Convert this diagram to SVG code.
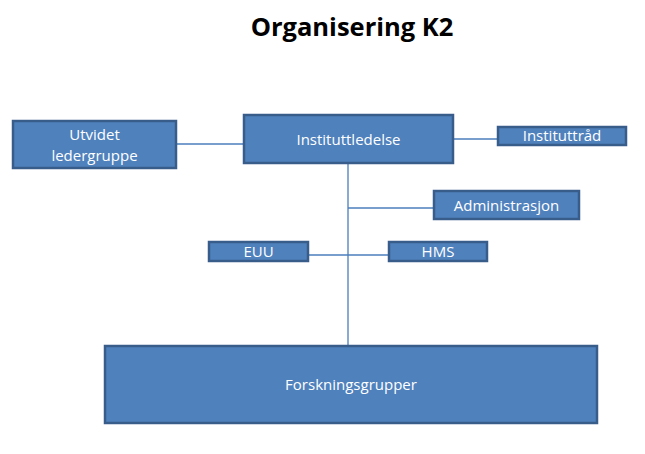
<svg xmlns="http://www.w3.org/2000/svg" width="645" height="454" viewBox="0 0 645 454">
<style>
.box{fill:#4F81BD;stroke:#385D8A;stroke-width:2.5}
.lbl{font-family:"Open Sans","Liberation Sans",sans-serif;font-size:15px;fill:#FFFFFF;text-anchor:middle}
.ln{stroke:#4A7EBB;stroke-width:1.3;fill:none}
</style>
<rect width="645" height="454" fill="#FFFFFF"/>
<text x="352" y="36" font-family="'Open Sans','Liberation Sans',sans-serif" font-size="25.5" font-weight="bold" fill="#000" text-anchor="middle">Organisering K2</text>
<g id="connectors">
<line class="ln" x1="176" y1="144" x2="243" y2="144"/>
<line class="ln" x1="453" y1="139" x2="497" y2="139"/>
<line class="ln" x1="348" y1="163" x2="348" y2="346"/>
<line class="ln" x1="348" y1="208" x2="433" y2="208"/>
<line class="ln" x1="308" y1="255" x2="388" y2="255"/>
</g>
<g id="utvidet">
<rect class="box" x="13" y="121" width="163" height="47"/>
<text class="lbl" x="94.5" y="140">Utvidet</text>
<text class="lbl" x="94.5" y="161">ledergruppe</text>
</g>
<g id="instituttledelse">
<rect class="box" x="244" y="115" width="209" height="48"/>
<text class="lbl" x="348.5" y="145">Instituttledelse</text>
</g>
<g id="instituttraad">
<rect class="box" x="498" y="127" width="128" height="18"/>
<text class="lbl" x="562" y="141">Instituttråd</text>
</g>
<g id="administrasjon">
<rect class="box" x="434" y="191" width="145" height="28"/>
<text class="lbl" x="506.5" y="211">Administrasjon</text>
</g>
<g id="euu">
<rect class="box" x="209" y="242" width="99" height="19"/>
<text class="lbl" x="258.5" y="257">EUU</text>
</g>
<g id="hms">
<rect class="box" x="389" y="242" width="98" height="19"/>
<text class="lbl" x="438" y="257">HMS</text>
</g>
<g id="forskningsgrupper">
<rect class="box" x="105" y="346" width="492" height="77"/>
<text class="lbl" x="351" y="390">Forskningsgrupper</text>
</g>
</svg>
